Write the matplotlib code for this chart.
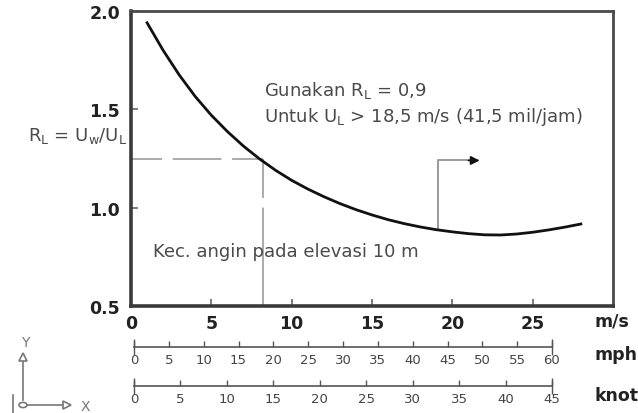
import matplotlib
matplotlib.use("Agg")
import matplotlib.pyplot as plt
from matplotlib.lines import Line2D
from matplotlib.patches import Circle

plt.rcParams["font.family"] = ["DejaVu Sans"]

# curve R_L
wind_ms = [1, 2, 3, 4, 5, 6, 7, 8, 9, 10, 11, 12, 13, 14,
           15, 16, 17, 18, 19, 20, 21, 22, 23, 24, 25, 26, 27, 28]
ratio_rl = [1.94, 1.80, 1.675, 1.565, 1.47, 1.387, 1.313, 1.248, 1.19, 1.139,
            1.095, 1.056, 1.021, 0.99, 0.963, 0.939, 0.919, 0.902, 0.888,
            0.877, 0.868, 0.862, 0.861, 0.866, 0.875, 0.887, 0.901, 0.917]

# reading example (dashed guide) and the "use 0.9" arrow
guide_ms, guide_rl = 8.2, 1.245
arrow_ms, arrow_base, arrow_top, arrow_end = 19.1, 0.887, 1.24, 21.7

ms_ticks = [0, 5, 10, 15, 20, 25]
rl_ticks = [0.5, 1.0, 1.5, 2.0]
mph_ticks = list(range(0, 65, 5))
knot_ticks = list(range(0, 50, 5))

W, H = 638, 414
fig = plt.figure(figsize=(W / 100, H / 100), dpi=100)


def fx(px):
    return px / W


def fy(py):
    return 1 - py / H


ax = fig.add_axes([fx(131), fy(307), fx(613) - fx(131), fy(12) - fy(307)])
ax.set_xlim(0, 30)
ax.set_ylim(0.5, 2.0)

ax.plot(wind_ms, ratio_rl, color="#111111", lw=2.0, zorder=3,
        solid_joinstyle="round")

guide = "#ababab"
ax.plot([0, guide_ms], [guide_rl, guide_rl], color=guide, lw=1.4,
        linestyle=(9, (25, 5.5)), zorder=2)
ax.plot([guide_ms, guide_ms], [guide_rl, 0.5], color=guide, lw=1.4,
        dashes=(20, 5, 90, 5), zorder=2)

ax.plot([arrow_ms, arrow_ms, arrow_end - 0.6], [arrow_base, arrow_top, arrow_top],
        color="#9a9a9a", lw=1.4, zorder=2)
ax.annotate("", xy=(arrow_end, arrow_top), xytext=(arrow_end - 0.7, arrow_top),
            arrowprops=dict(arrowstyle="-|>", color="#111111", lw=1.2,
                            mutation_scale=13, shrinkA=0, shrinkB=0))

for side in ["left", "bottom"]:
    ax.spines[side].set_linewidth(2.6)
    ax.spines[side].set_color("#3a3a3a")
for side in ["top", "right"]:
    ax.spines[side].set_linewidth(2.0)
    ax.spines[side].set_color("#4a4a4a")

ax.set_xticks(ms_ticks)
ax.set_yticks(rl_ticks)
ax.set_yticklabels(["0.5", "1.0", "1.5", "2.0"])
ax.tick_params(direction="in", length=5, width=1.2, color="#666666",
               labelsize=12.5, labelcolor="#222222", pad=6)
ax.tick_params(axis="y", pad=8)
for lab in ax.get_xticklabels() + ax.get_yticklabels():
    lab.set_fontweight("bold")

txt = "#4a4a4a"
ax.text(8.3, 1.60, "Gunakan R$_\\mathregular{L}$ = 0,9", fontsize=13, color=txt,
        va="center", ha="left")
ax.text(8.3, 1.465, "Untuk U$_\\mathregular{L}$ > 18,5 m/s (41,5 mil/jam)",
        fontsize=13, color=txt, va="center", ha="left")
ax.text(1.35, 0.78, "Kec. angin pada elevasi 10 m", fontsize=13, color=txt,
        va="center", ha="left")
fig.text(fx(127), fy(136), "R$_\\mathregular{L}$ = U$_\\mathregular{w}$/U$_\\mathregular{L}$",
         fontsize=13, color=txt, ha="right", va="center")


def unit_scale(y_px, top, ticks):
    s = fig.add_axes([fx(134), fy(y_px), fx(552) - fx(134), 0.0001])
    s.set_xlim(0, top)
    s.set_yticks([])
    for side in ["left", "right", "top"]:
        s.spines[side].set_visible(False)
    s.spines["bottom"].set_color("#555555")
    s.spines["bottom"].set_linewidth(1.2)
    s.patch.set_visible(False)
    s.set_xticks(ticks)
    s.tick_params(direction="in", length=4, width=1.0, color="#555555",
                  labelsize=9.5, labelcolor="#444444", pad=4)
    s.xaxis.remove_overlapping_locs = False
    s.set_xticks([0, top], minor=True)
    s.tick_params(which="minor", direction="inout", length=11, width=1.0,
                  color="#555555")
    return s


unit_scale(348, 60, mph_ticks)
unit_scale(387, 45, knot_ticks)

for label, y in [("m/s", 322), ("mph", 355), ("knot", 396)]:
    fig.text(fx(594), fy(y), label, fontsize=12.5, fontweight="bold",
             color="#222222", ha="left", va="center")

# coordinate icon in the lower left corner
ico = "#777777"
fig.add_artist(Line2D([fx(23), fx(23)], [fy(401), fy(362)], color=ico, lw=1.2))
fig.add_artist(Line2D([fx(28), fx(63)], [fy(406), fy(406)], color=ico, lw=1.2))
fig.add_artist(Circle((fx(23), fy(406)), 4 / W, transform=fig.transFigure,
                      fill=False, ec=ico, lw=1.2))
fig.add_artist(Line2D([fx(23)], [fy(358)], marker="^", ms=6, mfc="white",
                      mec=ico, mew=1.2))
fig.add_artist(Line2D([fx(67)], [fy(406)], marker=">", ms=6, mfc="white",
                      mec=ico, mew=1.2))
fig.add_artist(Line2D([fx(13), fx(13)], [fy(396), fy(414)], color=ico, lw=1.2))
fig.text(fx(25), fy(343), "Y", fontsize=10, color=ico, ha="center", va="center")
fig.text(fx(85), fy(407), "X", fontsize=10, color=ico, ha="center", va="center")

fig.savefig("out.png", dpi=100)
